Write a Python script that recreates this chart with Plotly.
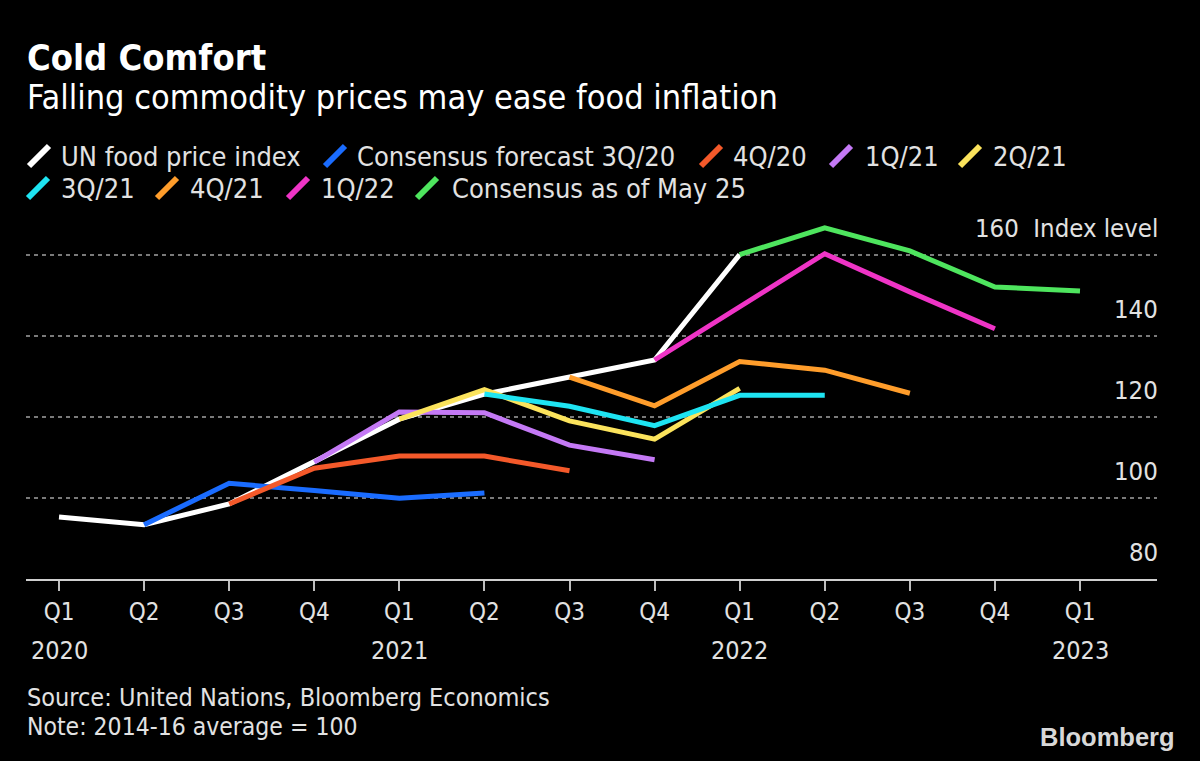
import plotly.graph_objects as go

# ---------------- data ----------------
quarters = ["Q1", "Q2", "Q3", "Q4", "Q1", "Q2", "Q3", "Q4", "Q1", "Q2", "Q3", "Q4", "Q1"]
year_labels = ["2020", "", "", "", "2021", "", "", "", "2022", "", "", "", "2023"]
x_idx = list(range(len(quarters)))

un_index = [95.3, 93.4, 98.5, 108.8, 119.4, 125.6, 129.8, 134.0, 160.0, None, None, None, None]
cf_3q20 = [None, 93.4, 103.6, 101.8, 99.9, 101.2, None, None, None, None, None, None, None]
cf_4q20 = [None, None, 98.5, 107.3, 110.3, 110.3, 106.7, None, None, None, None, None, None]
cf_1q21 = [None, None, None, 108.8, 121.2, 121.0, 113.0, 109.4, None, None, None, None, None]
cf_2q21 = [None, None, None, None, 119.4, 126.7, 119.0, 114.5, 127.0, None, None, None, None]
cf_3q21 = [None, None, None, None, None, 125.6, 122.6, 117.8, 125.3, 125.3, None, None, None]
cf_4q21 = [None, None, None, None, None, None, 129.8, 122.7, 133.6, 131.5, 125.8, None, None]
cf_1q22 = [None, None, None, None, None, None, None, 134.0, 147.2, 160.2, 150.8, 141.7, None]
cf_may25 = [None, None, None, None, None, None, None, None, 160.0, 166.6, 160.9, 152.0, 151.0]

series_names = ["UN food price index", "Consensus forecast 3Q/20", "4Q/20", "1Q/21", "2Q/21",
                "3Q/21", "4Q/21", "1Q/22", "Consensus as of May 25"]
series_values = [un_index, cf_3q20, cf_4q20, cf_1q21, cf_2q21, cf_3q21, cf_4q21, cf_1q22, cf_may25]
series_colors = ["#ffffff", "#1a6cff", "#f4592a", "#c479f5", "#fbe35c",
                 "#1ee4f2", "#ff9d2b", "#ef34c6", "#4ee55e"]

y_tickvals = [80, 100, 120, 140, 160]
y_ticktext = ["80", "100", "120", "140", "160\u00a0\u00a0Index level"]

# ---------------- layout helpers ----------------
W, H = 1200, 761
ML, MR, MT, MB = 26, 43, 214, 182
PW, PH = W - ML - MR, H - MT - MB
FONT = "DejaVu Sans Condensed, Liberation Sans Narrow, DejaVu Sans, sans-serif"
TXT = "#e2e2e2"


def px(xp):
    return (xp - ML) / PW


def py(yp):
    return (H - MB - yp) / PH


fig = go.Figure()
for name, vals, col in zip(series_names, series_values, series_colors):
    fig.add_trace(go.Scatter(x=x_idx, y=vals, mode="lines", name=name,
                             line=dict(color=col, width=5), connectgaps=False,
                             hoverinfo="skip"))

annotations = []
shapes = []

# title / subtitle
annotations.append(dict(text="<b>Cold Comfort</b>", x=px(25), y=py(57), xref="paper", yref="paper",
                        xanchor="left", yanchor="middle", showarrow=False,
                        font=dict(size=36, color="#ffffff", family=FONT)))
annotations.append(dict(text="Falling commodity prices may ease food inflation", x=px(25), y=py(97),
                        xref="paper", yref="paper", xanchor="left", yanchor="middle", showarrow=False,
                        font=dict(size=34, color="#ffffff", family=FONT)))

# custom legend with slanted strokes
legend_layout = [  # (symbol left px, row center px, text left px)
    (29, 156, 59), (325, 156, 355), (701, 156, 731), (831, 156, 863), (960, 156, 991),
    (28, 188, 59), (157, 188, 188), (288, 188, 319), (417, 188, 450),
]
for (sx, ry, tx), name, col in zip(legend_layout, series_names, series_colors):
    shapes.append(dict(type="line", xref="paper", yref="paper",
                       x0=px(sx), y0=py(ry + 10), x1=px(sx + 20), y1=py(ry - 10),
                       line=dict(color=col, width=6)))
    annotations.append(dict(text=name, x=px(tx), y=py(ry), xref="paper", yref="paper",
                            xanchor="left", yanchor="middle", showarrow=False,
                            font=dict(size=27, color=TXT, family=FONT)))

# y-axis labels sitting above their gridlines, right aligned
for tv, tt in zip(y_tickvals, y_ticktext):
    annotations.append(dict(text=tt, x=1, y=tv, xref="paper", yref="y",
                            xanchor="right", yanchor="middle", yshift=27, xshift=3,
                            showarrow=False,
                            font=dict(size=25.5, color=TXT, family=FONT)))

# year labels under quarters
for xi, yl in zip(x_idx, year_labels):
    if yl:
        annotations.append(dict(text=yl, x=xi, y=py(650), xref="x", yref="paper",
                                xanchor="center", yanchor="middle", showarrow=False,
                                font=dict(size=25, color=TXT, family=FONT)))

# source / note / logo
annotations.append(dict(text="Source: United Nations, Bloomberg Economics", x=px(25), y=py(697),
                        xref="paper", yref="paper", xanchor="left", yanchor="middle", showarrow=False,
                        font=dict(size=25, color=TXT, family=FONT)))
annotations.append(dict(text="Note: 2014-16 average = 100", x=px(25), y=py(726),
                        xref="paper", yref="paper", xanchor="left", yanchor="middle", showarrow=False,
                        font=dict(size=24.5, color=TXT, family=FONT)))
annotations.append(dict(text="<b>Bloomberg</b>", x=px(1177), y=py(737),
                        xref="paper", yref="paper", xanchor="right", yanchor="middle", showarrow=False,
                        font=dict(size=25.5, color="#d8d8d8", family="Liberation Sans, Arial, sans-serif")))

fig.update_layout(
    width=W, height=H,
    paper_bgcolor="#000000", plot_bgcolor="#000000",
    margin=dict(l=ML, r=MR, t=MT, b=MB),
    showlegend=False,
    font=dict(family=FONT, color=TXT),
    annotations=annotations,
    shapes=shapes,
    xaxis=dict(range=[-0.388, 12.905], tickvals=x_idx, ticktext=quarters,
               ticks="outside", ticklen=10, tickwidth=1.5, tickcolor="#bdbdbd",
               showline=True, linecolor="#cfcfcf", linewidth=2,
               showgrid=False, zeroline=False,
               tickfont=dict(size=24, color=TXT, family=FONT)),
    yaxis=dict(range=[80, 170], side="right", tickvals=y_tickvals,
               showticklabels=False, ticks="",
               showgrid=True, gridcolor="#7a7a7a", gridwidth=2, griddash="4px,4px",
               zeroline=False, showline=False),
)

fig.write_html("out.html", config={"displayModeBar": False},
               post_script="document.body.style.margin='0';document.body.style.background='#000';")
